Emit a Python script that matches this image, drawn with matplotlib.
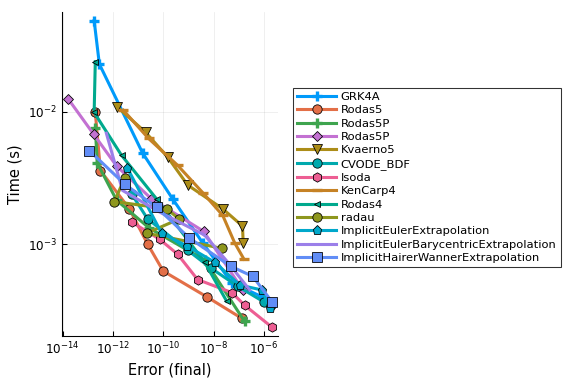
import matplotlib
matplotlib.use("Agg")
import matplotlib.pyplot as plt

# work-precision data (error, time)
grk4a_err = [1.8e-13, 2.9e-13, 1.5e-11, 2.35e-10, 3.7e-9, 5.3e-8, 8.2e-7]
grk4a_t = [4.9e-2, 2.3e-2, 4.9e-3, 2.2e-3, 1.02e-3, 5.1e-4, 4.0e-4]

rodas5_err = [2.0e-13, 3.2e-13, 4.5e-12, 2.4e-11, 1.0e-10, 5.3e-9, 1.3e-7]
rodas5_t = [9.9e-3, 3.6e-3, 1.85e-3, 1.0e-3, 6.25e-4, 4.0e-4, 2.75e-4]

rodas5p_err = [2.0e-13, 2.4e-13, 1.4e-12, 2.8e-11, 4.4e-9, 1.7e-7]
rodas5p_t = [7.5e-3, 4.1e-3, 2.15e-3, 1.32e-3, 7.6e-4, 2.6e-4]

rodas5p2_err = [1.7e-14, 1.7e-13, 1.4e-12, 3.4e-11, 4.0e-9, 1.45e-7]
rodas5p2_t = [1.25e-2, 6.8e-3, 3.9e-3, 2.2e-3, 1.25e-3, 4.5e-4]

kvaerno5_err = [1.5e-12, 2.0e-11, 1.5e-10, 9.3e-10, 2.3e-8, 1.4e-7, 1.5e-7]
kvaerno5_t = [1.09e-2, 7.0e-3, 4.55e-3, 2.8e-3, 1.85e-3, 1.37e-3, 1.02e-3]

cvode_err = [5.5e-12, 2.4e-11, 9.3e-10, 7.7e-9, 9.1e-8, 1.0e-6, 1.9e-6]
cvode_t = [2.4e-3, 1.55e-3, 9.0e-4, 6.6e-4, 4.8e-4, 3.65e-4, 3.45e-4]

isoda_err = [5.5e-12, 7.1e-11, 3.7e-10, 2.3e-9, 5.3e-8, 1.7e-7, 2.1e-6]
isoda_t = [1.47e-3, 1.09e-3, 8.4e-4, 5.4e-4, 4.3e-4, 3.45e-4, 2.35e-4]

kencarp4_err = [2.6e-12, 2.6e-11, 3.7e-10, 3.7e-9, 2.3e-8, 6.9e-8, 1.6e-7]
kencarp4_t = [1.03e-2, 6.3e-3, 3.95e-3, 2.45e-3, 1.65e-3, 1.02e-3, 7.7e-4]

rodas4_err = [2.0e-13, 1.8e-13, 2.2e-12, 5.4e-11, 4.4e-9, 3.3e-8]
rodas4_t = [2.4e-2, 9.9e-3, 4.7e-3, 2.2e-3, 7.3e-4, 3.7e-4]

radau_err = [2.9e-12, 1.15e-12, 1.35e-10, 4.3e-10, 2.2e-11, 2.1e-8]
radau_t = [3.15e-3, 2.1e-3, 1.85e-3, 1.55e-3, 1.21e-3, 9.3e-4]

iee_err = [3.8e-12, 8.6e-11, 8.5e-10, 1.1e-8, 1.1e-7, 8.2e-7, 1.7e-6]
iee_t = [3.75e-3, 1.21e-3, 9.7e-4, 7.3e-4, 4.9e-4, 4.5e-4, 3.3e-4]

iebe_err = [5.5e-13, 2.4e-12, 7.1e-11, 4.4e-9, 3.65e-8, 2.7e-7]
iebe_t = [6.9e-3, 2.55e-3, 1.75e-3, 1.17e-3, 7.3e-4, 4.5e-4]

ihwe_err = [1.15e-13, 2.9e-12, 5.4e-11, 1.1e-9, 4.8e-8, 3.6e-7, 2.1e-6]
ihwe_t = [5.1e-3, 2.85e-3, 1.9e-3, 1.11e-3, 6.8e-4, 5.7e-4, 3.65e-4]

series = [
    ("GRK4A", grk4a_err, grk4a_t, "#009AFA", "+"),
    ("Rodas5", rodas5_err, rodas5_t, "#E36F47", "o"),
    ("Rodas5P", rodas5p_err, rodas5p_t, "#3EA44E", "+"),
    ("Rodas5P", rodas5p2_err, rodas5p2_t, "#C371D2", "D"),
    ("Kvaerno5", kvaerno5_err, kvaerno5_t, "#AC8D18", "v"),
    ("CVODE_BDF", cvode_err, cvode_t, "#00A9AD", "o"),
    ("Isoda", isoda_err, isoda_t, "#ED5E93", "h"),
    ("KenCarp4", kencarp4_err, kencarp4_t, "#C68225", "_"),
    ("Rodas4", rodas4_err, rodas4_t, "#00A98D", "<"),
    ("radau", radau_err, radau_t, "#8E971E", "o"),
    ("ImplicitEulerExtrapolation", iee_err, iee_t, "#00A8CB", "p"),
    ("ImplicitEulerBarycentricExtrapolation", iebe_err, iebe_t, "#9B7FE9", None),
    ("ImplicitHairerWannerExtrapolation", ihwe_err, ihwe_t, "#618DF6", "s"),
]

fig = plt.figure(figsize=(6, 4), dpi=96)
ax = fig.add_axes([0.1076, 0.1258, 0.375, 0.843])

for name, x, y, c, m in series:
    kw = dict(color=c, lw=2.3, label=name)
    if m in ("+", "_"):
        kw.update(marker=m, ms=8, mew=2.5, mec=c)
    elif m == "<":
        kw.update(marker=m, ms=5, mec="black", mew=0.6)
    elif m == "D":
        kw.update(marker=m, ms=5.5, mec="black", mew=0.6)
    elif m is not None:
        kw.update(marker=m, ms=7, mec="black", mew=0.6)
    ax.plot(x, y, **kw)

ax.set_xscale("log")
ax.set_yscale("log")
ax.set_xlim(9.5e-15, 3.6e-6)
ax.set_ylim(2.03e-4, 5.7e-2)
ax.set_xticks([1e-14, 1e-12, 1e-10, 1e-8, 1e-6])
ax.set_yticks([1e-3, 1e-2])
ax.minorticks_off()
ax.grid(True, color="black", alpha=0.08, lw=0.6)
for s in ("top", "right"):
    ax.spines[s].set_visible(False)
ax.tick_params(direction="in", labelsize=9, length=4)
ax.set_xlabel("Error (final)", fontsize=11)
ax.set_ylabel("Time (s)", fontsize=11)

leg = fig.legend(loc="upper left", bbox_to_anchor=(0.509, 0.771), fontsize=8.6,
                 frameon=True, fancybox=False, handlelength=3.4,
                 labelspacing=0.29, borderpad=0.35, handletextpad=0.4,
                 borderaxespad=0)
leg.get_frame().set_edgecolor("black")
leg.get_frame().set_linewidth(0.8)

fig.savefig("out.png", dpi=96)
